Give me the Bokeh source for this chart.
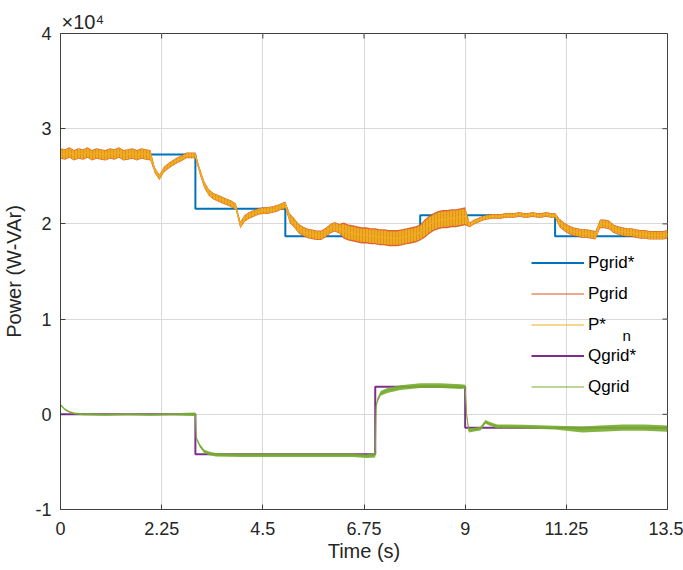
import numpy as np
from bokeh.plotting import figure
from bokeh.models import (Range1d, FixedTicker, Legend, LegendItem,
                          Label, ColumnDataSource)
from bokeh.embed import file_html
from bokeh.resources import INLINE

# ---------------- data (power in units of 1e4 W / VAr) ----------------
x_ticks = [0, 2.25, 4.5, 6.75, 9, 11.25, 13.5]
x_tick_labels = ["0", "2.25", "4.5", "6.75", "9", "11.25", "13.5"]
y_ticks = [-1, 0, 1, 2, 3, 4]
y_tick_labels = ["-1", "0", "1", "2", "3", "4"]

# Pgrid* reference (step)
pstar_t = [0, 3.0, 5.0, 8.0, 11.0, 13.5]
pstar_v = [2.73, 2.16, 1.87, 2.09, 1.87, 1.87]

# Qgrid* reference (step)
qstar_t = [0, 3.0, 7.0, 9.0, 13.5]
qstar_v = [0.0, -0.42, 0.29, -0.14, -0.14]

# Pgrid measured, sampled every 0.1 s from 0 to 13.5 s
pgrid_mid = [
    2.74, 2.73, 2.75, 2.72, 2.74, 2.73, 2.75, 2.72, 2.74, 2.73,
    2.72, 2.74, 2.73, 2.75, 2.72, 2.73, 2.74, 2.72, 2.74, 2.73,
    2.72, 2.56, 2.49, 2.57, 2.61, 2.64, 2.67, 2.69, 2.72, 2.72,
    2.72, 2.55, 2.41, 2.33, 2.29, 2.27, 2.25, 2.23, 2.21, 2.18,
    1.99, 2.06, 2.09, 2.11, 2.13, 2.14, 2.14, 2.15, 2.16, 2.18,
    2.20, 2.06, 2.01, 1.95, 1.92, 1.90, 1.89, 1.88, 1.88, 1.91,
    1.95, 1.97, 1.95, 1.93, 1.91, 1.90, 1.89, 1.88, 1.88, 1.87,
    1.87, 1.86, 1.86, 1.85, 1.85, 1.85, 1.86, 1.87, 1.88, 1.89,
    1.91, 1.95, 1.99, 2.02, 2.04, 2.05, 2.05, 2.06, 2.06, 2.07,
    2.08, 1.99, 2.02, 2.04, 2.06, 2.07, 2.08, 2.08, 2.08, 2.09,
    2.09, 2.09, 2.10, 2.09, 2.09, 2.10, 2.09, 2.09, 2.10, 2.09,
    2.09, 2.01, 1.97, 1.94, 1.92, 1.91, 1.90, 1.90, 1.89, 1.88,
    2.00, 2.00, 1.99, 1.95, 1.93, 1.92, 1.91, 1.91, 1.90, 1.89,
    1.89, 1.88, 1.88, 1.88, 1.88, 1.89,
]
# P*n follows Pgrid closely (same samples)
pn_mid = list(pgrid_mid)

# noise half-widths (piecewise per interval)
p_noise_edges = [0.0, 2.05, 3.05, 5.05, 6.3, 8.05, 9.05, 11.05]
pgrid_noise = [0.055, 0.03, 0.035, 0.05, 0.085, 0.095, 0.025, 0.045]
pn_noise = [0.048, 0.025, 0.03, 0.042, 0.07, 0.08, 0.02, 0.038]

# Qgrid measured
q_t = [0.0, 0.1, 0.2, 0.3, 0.5, 1.0, 1.5, 2.0, 2.5, 3.0, 3.02, 3.1, 3.2, 3.3,
       3.45, 4.0, 5.0, 6.0, 6.5, 6.8, 7.0, 7.02, 7.05, 7.12, 7.27, 7.56, 8.0,
       8.45, 8.9, 9.0, 9.03, 9.08, 9.2, 9.34, 9.45, 9.55, 9.71, 10.3, 11.0,
       11.6, 12.0, 12.5, 13.0, 13.5]
q_v = [0.10, 0.05, 0.025, 0.01, 0.0, -0.005, 0.0, -0.005, 0.0, 0.0, -0.25,
       -0.33, -0.39, -0.41, -0.425, -0.43, -0.43, -0.43, -0.43, -0.44, -0.43,
       0.08, 0.15, 0.22, 0.25, 0.28, 0.30, 0.30, 0.29, 0.29, 0.01, -0.17,
       -0.16, -0.15, -0.08, -0.10, -0.126, -0.13, -0.14, -0.16, -0.15, -0.14,
       -0.14, -0.15]
q_noise_edges = [0.0, 3.0, 7.0, 9.0, 11.5]
q_noise = [0.01, 0.018, 0.025, 0.02, 0.032]

series_names = ["Pgrid*", "Pgrid", "P*", "Qgrid*", "Qgrid"]
colors = ["#0072BD", "#D95319", "#EDB120", "#7E2F8E", "#77AC30"]

FONT = "Liberation Sans"
TXT = "#262626"
AXC = "#404040"


def seg_lookup(t, edges, vals):
    idx = np.clip(np.searchsorted(edges, t, side="right") - 1, 0, len(vals) - 1)
    return np.asarray(vals)[idx]


p_t = np.round(np.arange(len(pgrid_mid)) * 0.1, 2)
pg = np.asarray(pgrid_mid)
pn = np.asarray(pn_mid)
pg_hw = seg_lookup(p_t, p_noise_edges, pgrid_noise)
pn_hw = seg_lookup(p_t, p_noise_edges, pn_noise)
qt = np.asarray(q_t)
qv = np.asarray(q_v)
q_hw = seg_lookup(qt, q_noise_edges, q_noise)

src_p = ColumnDataSource(dict(t=p_t, pg=pg, pg_lo=pg - pg_hw, pg_hi=pg + pg_hw,
                              pn=pn, pn_lo=pn - pn_hw, pn_hi=pn + pn_hw))
src_q = ColumnDataSource(dict(t=qt, q=qv, q_lo=qv - q_hw, q_hi=qv + q_hw))

X0, X1, Y0, Y1 = 0, 13.5, -1, 4

# ---------------- figure ----------------
p = figure(width=683, height=570, output_backend="svg", toolbar_location=None,
           x_range=Range1d(X0, X1), y_range=Range1d(Y0, Y1),
           min_border_left=60, min_border_right=16, min_border_top=33,
           min_border_bottom=61)
p.background_fill_color = "white"
p.border_fill_color = "white"
p.outline_line_color = AXC
p.outline_line_width = 1

# exponent marker "x10^4" as title, left aligned above the frame
p.title.text = "\u00d710\u2074"
p.title.align = "left"
p.title.offset = 1
p.title.standoff = 1
p.title.text_font = FONT
p.title.text_font_size = "20px"
p.title.text_font_style = "normal"
p.title.text_color = TXT

for ax in (p.xaxis[0], p.yaxis[0]):
    ax.axis_line_color = AXC
    ax.major_tick_line_color = AXC
    ax.major_tick_in = 5
    ax.major_tick_out = 0
    ax.minor_tick_line_color = None
    ax.major_label_text_font = FONT
    ax.major_label_text_font_size = "18px"
    ax.major_label_text_color = TXT
    ax.axis_label_text_font = FONT
    ax.axis_label_text_font_size = "20px"
    ax.axis_label_text_font_style = "normal"
    ax.axis_label_text_color = TXT

p.xaxis.ticker = FixedTicker(ticks=x_ticks)
p.xaxis.major_label_overrides = {t: l for t, l in zip(x_ticks, x_tick_labels)}
p.yaxis.ticker = FixedTicker(ticks=y_ticks)
p.yaxis.major_label_overrides = {t: l for t, l in zip(y_ticks, y_tick_labels)}
p.xaxis.axis_label = "Time (s)"
p.yaxis.axis_label = "Power (W-VAr)"
p.xaxis.major_label_standoff = 12
p.xaxis.axis_label_standoff = 2
p.yaxis.major_label_standoff = 9
p.yaxis.axis_label_standoff = 7

p.xgrid.ticker = FixedTicker(ticks=x_ticks)
p.ygrid.ticker = FixedTicker(ticks=y_ticks)
p.grid.grid_line_color = "#d9d9d9"
p.grid.grid_line_width = 1

# box tick marks on the top and right edges (inward, 5 px)
p.ray(x=x_ticks, y=[Y1] * len(x_ticks), length=5, length_units="screen",
      angle=-np.pi / 2, line_color=AXC, line_width=1)
p.ray(x=[X1] * len(y_ticks), y=y_ticks, length=5, length_units="screen",
      angle=np.pi, line_color=AXC, line_width=1)

# ---------------- series ----------------
r_pstar = p.step(pstar_t, pstar_v, mode="after", line_color=colors[0], line_width=2)

p.varea(x="t", y1="pg_lo", y2="pg_hi", source=src_p, fill_color=colors[1], fill_alpha=0.9)
r_pg = p.line("t", "pg", source=src_p, line_color=colors[1], line_width=1)

# P*n band drawn over Pgrid; thin red streaks show Pgrid's noise through it
p.varea(x="t", y1="pn_lo", y2="pn_hi", source=src_p, fill_color=colors[2], fill_alpha=0.95,
        hatch_pattern="vertical_line", hatch_color=colors[1], hatch_alpha=0.35,
        hatch_scale=3, hatch_weight=1)
r_pn = p.line("t", "pn", source=src_p, line_color=colors[2], line_width=1)

r_qstar = p.step(qstar_t, qstar_v, mode="after", line_color=colors[3], line_width=2)

p.varea(x="t", y1="q_lo", y2="q_hi", source=src_q, fill_color=colors[4], fill_alpha=0.9)
r_q = p.line("t", "q", source=src_q, line_color=colors[4], line_width=1)

# ---------------- legend ----------------
legend = Legend(items=[LegendItem(label=n, renderers=[r]) for n, r in
                       zip(series_names, [r_pstar, r_pg, r_pn, r_qstar, r_q])],
                location=(471, 111), orientation="vertical",
                label_text_font=FONT, label_text_font_size="17px",
                label_text_color="black",
                glyph_width=53, glyph_height=23, label_height=23,
                label_standoff=4, spacing=8, padding=0, margin=0,
                border_line_color=None, background_fill_alpha=0)
p.add_layout(legend)

# subscript "n" for the P*n legend entry
p.add_layout(Label(x=562, y=174, x_units="screen", y_units="screen", text="n",
                   text_font=FONT, text_font_size="15px", text_color="black",
                   text_baseline="alphabetic"))

open("out.html", "w").write(file_html(p, INLINE))
